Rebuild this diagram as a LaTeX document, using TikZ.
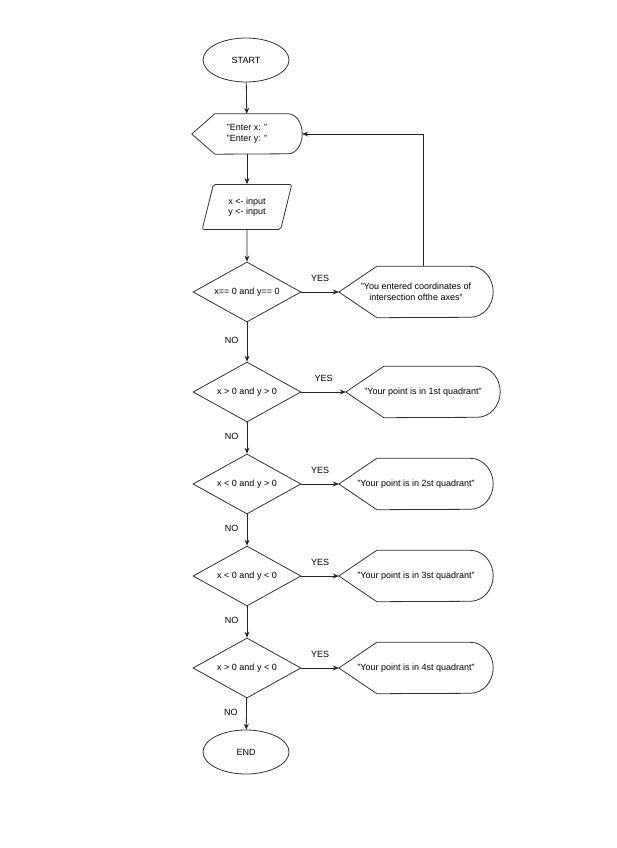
\documentclass[tikz,border=0pt]{standalone}
\usepackage{fontspec}
\setmainfont{Liberation Sans}
\usetikzlibrary{shapes.geometric,arrows.meta}

\begin{document}
\begin{tikzpicture}[x=1pt,y=-1pt,
        font=\fontsize{9}{10.5}\selectfont,
        box/.style={draw=black!80,line width=0.8pt},
        term/.style={box,ellipse,minimum width=86pt,minimum height=44pt,inner sep=0pt},
        cond/.style={box,diamond,aspect=1.8,minimum width=108pt,minimum height=60pt,inner sep=1pt},
        io/.style={box,trapezium,trapezium left angle=74,trapezium right angle=106,
            trapezium stretches=true,minimum width=90pt,minimum height=45pt,
            rounded corners=2pt,align=center},
        msg/.style={minimum width=154pt,minimum height=51pt,inner sep=0pt,align=center},
        arr/.style={-{Stealth[length=6pt,width=5pt]},line width=0.8pt,draw=black!85}]
        \useasboundingbox (0,0) rectangle (616,848);
        % nodes
        \node[term] (start) at (246,60) {START};
        \node[msg,minimum width=110pt,minimum height=40pt] (ask) at (247,134) {"Enter x: "\\"Enter y: "};
        \node[io] (read) at (247,207) {x <- input\\y <- input};
        \node[cond] (c1) at (247,292) {x== 0 and y== 0};
        \node[cond] (c2) at (247,392) {x > 0 and y > 0};
        \node[cond] (c3) at (247,484) {x < 0 and y > 0};
        \node[cond] (c4) at (247,576) {x < 0 and y < 0};
        \node[cond] (c5) at (247,668) {x > 0 and y < 0};
        \node[term] (end) at (246,752) {END};
        \node[msg] (m1) at (416,292) {"You entered coordinates of\\intersection ofthe axes"};
        \node[msg] (m2) at (423,392) {"Your point is in 1st quadrant"};
        \node[msg] (m3) at (416,484) {"Your point is in 2st quadrant"};
        \node[msg] (m4) at (416,576) {"Your point is in 3st quadrant"};
        \node[msg] (m5) at (416,668) {"Your point is in 4st quadrant"};
        % display shapes
        \foreach \n/\p/\r/\h in {ask/23/14/20,m1/38/23/25.5,m2/38/23/25.5,m3/38/23/25.5,m4/38/23/25.5,m5/38/23/25.5}
            \draw[box] (\n.west) -- ([xshift=\p]\n.north west) -- ([xshift=-\r]\n.north east)
                arc[start angle=90,end angle=-90,x radius=\r pt,y radius=\h pt]
                -- ([xshift=\p]\n.south west) -- cycle;
        % connectors
        \draw[arr] (start) -- (ask);
        \draw[arr] (ask) -- (read);
        \draw[arr] (read) -- (c1);
        \draw[arr] (c1) -- node[pos=.45,left=5pt] {NO} (c2);
        \draw[arr] (c2) -- node[pos=.45,left=5pt] {NO} (c3);
        \draw[arr] (c3) -- node[pos=.45,left=5pt] {NO} (c4);
        \draw[arr] (c4) -- node[pos=.45,left=5pt] {NO} (c5);
        \draw[arr] (c5) -- node[pos=.45,left=5pt] {NO} (end);
        \foreach \i in {1,...,5}
            \draw[arr] (c\i) -- node[above=7pt] {YES} (m\i);
        \draw[arr] ([xshift=7pt]m1.north) |- (ask.east);
    \end{tikzpicture}
\end{document}
